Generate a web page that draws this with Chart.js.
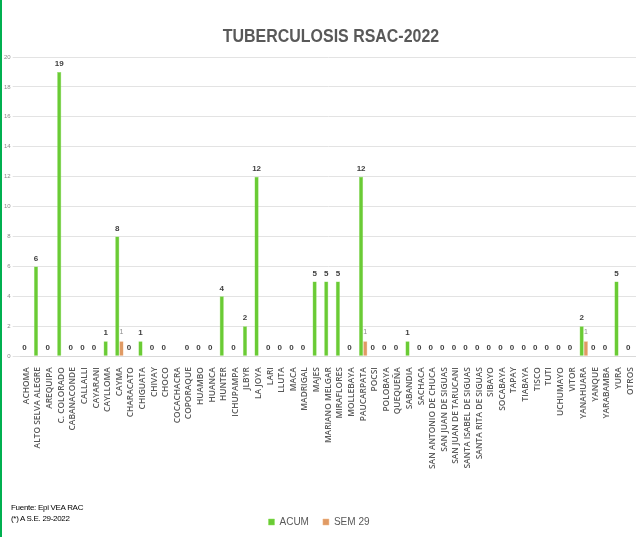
<!DOCTYPE html>
<html>
<head>
  <title>TUBERCULOSIS RSAC-2022</title>
  <script src="https://cdn.jsdelivr.net/npm/chart.js"></script>
  <style>
    body { margin: 0; background: #fff; }
    #wrap {
      position: relative;
      width: 636px;
      height: 537px;
      box-sizing: border-box;
      border-left: 2px solid #00b050;
      font-family: 'Liberation Sans', Arial, sans-serif;
    }
    #titulo {
      position: absolute;
      left: 12px;
      width: 634px;
      top: 25px;
      text-align: center;
      font-size: 19px;
      font-weight: bold;
      color: #595959;
      transform: scaleX(0.84);
      transform-origin: center top;
    }
    .fuente {
      position: absolute;
      left: 9px;
      font-size: 8px;
      color: #000;
      letter-spacing: -0.3px;
    }
  </style>
</head>
<body>
  <div id="wrap">
    <canvas id="tbChart" width="634" height="537"></canvas>
    <div id="titulo">TUBERCULOSIS RSAC-2022</div>
    <div class="fuente" style="top: 503px;">Fuente: Epi VEA RAC</div>
    <div class="fuente" style="top: 514px;">(*) A S.E. 29-2022</div>
  </div>

  <script>
    // Distritos
    const distritos = [
      'ACHOMA', 'ALTO SELVA ALEGRE', 'AREQUIPA', 'C. COLORADO', 'CABANACONDE', 'CALLALLI',
      'CAYARANI', 'CAYLLOMA', 'CAYMA', 'CHARACATO', 'CHIGUATA', 'CHIVAY', 'CHOCO',
      'COCACHACRA', 'COPORAQUE', 'HUAMBO', 'HUANCA', 'HUNTER', 'ICHUPAMPA', 'JLBYR',
      'LA JOYA', 'LARI', 'LLUTA', 'MACA', 'MADRIGAL', 'MAJES', 'MARIANO MELGAR',
      'MIRAFLORES', 'MOLLEBAYA', 'PAUCARPATA', 'POCSI', 'POLOBAYA', 'QUEQUEÑA',
      'SABANDIA', 'SACHACA', 'SAN ANTONIO DE CHUCA', 'SAN JUAN DE SIGUAS',
      'SAN JUAN DE TARUCANI', 'SANTA ISABEL DE SIGUAS', 'SANTA RITA DE SIGUAS', 'SIBAYO',
      'SOCABAYA', 'TAPAY', 'TIABAYA', 'TISCO', 'TUTI', 'UCHUMAYO', 'VITOR', 'YANAHUARA',
      'YANQUE', 'YARABAMBA', 'YURA', 'OTROS'
    ];

    // Casos acumulados
    const acum = [
      0, 6, 0, 19, 0, 0,
      0, 1, 8, 0, 1, 0, 0,
      null, 0, 0, 0, 4, 0, 2,
      12, 0, 0, 0, 0, 5, 5,
      5, 0, 12, 0, 0, 0,
      1, 0, 0, 0,
      0, 0, 0, 0,
      0, 0, 0, 0, 0, 0, 0, 2,
      0, 0, 5, 0
    ];

    // Semana 29
    const sem29 = [
      0, 0, 0, 0, 0, 0,
      0, 0, 1, 0, 0, 0, 0,
      0, 0, 0, 0, 0, 0, 0,
      0, 0, 0, 0, 0, 0, 0,
      0, 0, 1, 0, 0, 0,
      0, 0, 0, 0,
      0, 0, 0, 0,
      0, 0, 0, 0, 0, 0, 0, 1,
      0, 0, 0, 0
    ];

    const yTicks = [0, 2, 4, 6, 8, 10, 12, 14, 16, 18, 20];

    // Etiquetas encima de las barras
    const barLabels = {
      id: 'barLabels',
      afterDatasetsDraw(chart) {
        const ctx = chart.ctx;
        ctx.save();
        ctx.textAlign = 'center';
        ctx.textBaseline = 'bottom';
        chart.data.datasets.forEach((ds, i) => {
          const meta = chart.getDatasetMeta(i);
          meta.data.forEach((bar, j) => {
            const v = ds.data[j];
            if (v === null) return;
            if (i === 1 && v === 0) return;
            if (i === 0) {
              ctx.font = 'bold 8px "Liberation Sans", sans-serif';
              ctx.fillStyle = '#404040';
              ctx.fillText(String(v), bar.x, bar.y - 4);
            } else {
              ctx.font = '7px "Liberation Sans", sans-serif';
              ctx.fillStyle = '#8c8c8c';
              ctx.fillText(String(v), bar.x, bar.y - 6);
            }
          });
        });
        ctx.restore();
      }
    };

    const ctx = document.getElementById('tbChart').getContext('2d');
    new Chart(ctx, {
      type: 'bar',
      data: {
        labels: distritos,
        datasets: [
          { label: 'ACUM', data: acum, backgroundColor: '#6acb35', borderColor: '#8fe05f', borderWidth: 0.5 },
          { label: 'SEM 29', data: sem29, backgroundColor: '#e09a64', borderColor: '#f0bb8a', borderWidth: 0.5 }
        ]
      },
      options: {
        responsive: false,
        animation: false,
        layout: { padding: { left: 0, right: 0, top: 57, bottom: 0 } },
        datasets: { bar: { categoryPercentage: 0.72, barPercentage: 1.0 } },
        scales: {
          x: {
            grid: { display: false },
            border: { color: '#d9d9d9' },
            afterFit: (s) => {
              s.height += 31;
              s.paddingLeft = 0;
              s.paddingRight = 0;
            },
            ticks: {
              autoSkip: false,
              maxRotation: 90,
              minRotation: 90,
              color: '#595959',
              padding: 3,
              font: { family: 'Open Sans', size: 8.4, weight: '600' }
            }
          },
          y: {
            min: 0,
            max: 20,
            afterBuildTicks: (axis) => { axis.ticks = yTicks.map(v => ({ value: v })); },
            grid: { color: '#e3e3e3', lineWidth: 1 },
            border: { display: false },
            ticks: {
              color: '#8c8c8c',
              padding: 2,
              font: { family: 'Liberation Sans', size: 6 }
            }
          }
        },
        plugins: {
          title: { display: false },
          legend: {
            position: 'bottom',
            labels: {
              boxWidth: 6,
              boxHeight: 6,
              color: '#595959',
              padding: 14,
              font: { family: '"Liberation Sans", sans-serif', size: 10 }
            }
          },
          tooltip: { enabled: false }
        }
      },
      plugins: [barLabels]
    });
  </script>
</body>
</html>
